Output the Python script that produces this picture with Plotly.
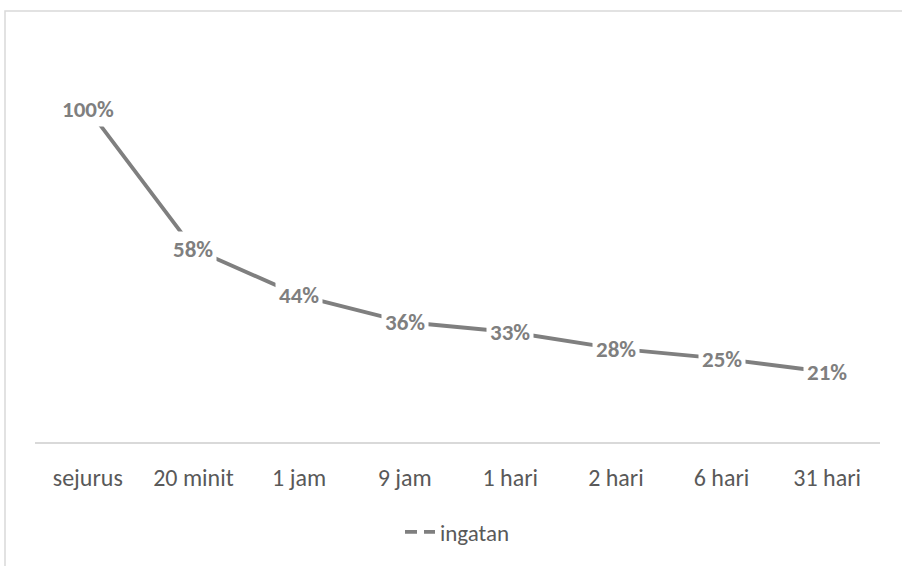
import plotly.graph_objects as go

categories = ["sejurus", "20 minit", "1 jam", "9 jam", "1 hari", "2 hari", "6 hari", "31 hari"]
ingatan = [1.00, 0.58, 0.44, 0.36, 0.33, 0.28, 0.25, 0.21]
series_name = "ingatan"

GREY = "#7f7f7f"
FONT = "Carlito, Calibri, Lato, sans-serif"

fig = go.Figure()
fig.add_trace(go.Scatter(
    x=categories, y=ingatan, mode="lines",
    line=dict(color=GREY, width=3.8),
    showlegend=False, hoverinfo="skip",
))
# legend entry (Excel-style symbol with a gap)
fig.add_trace(go.Scatter(
    x=[None], y=[None], mode="lines", name=series_name,
    line=dict(color=GREY, width=3.8, dash="12px,7px"),
    showlegend=True,
))

for c, v in zip(categories, ingatan):
    fig.add_annotation(
        x=c, y=v, xref="x", yref="y", text=f"<b>{round(v*100)}%</b>",
        showarrow=False, bgcolor="white", borderpad=3,
        font=dict(family=FONT, size=23, color=GREY),
    )

# outer chart border (light grey frame)
fig.add_shape(type="rect", xref="paper", yref="paper",
              x0=-0.0355, x1=1.04, y0=-0.4, y1=1.0775,
              line=dict(color="#d9d9d9", width=1.5), fillcolor="rgba(0,0,0,0)",
              layer="below")

fig.update_layout(
    width=902, height=566,
    margin=dict(l=35, r=22, t=42, b=124),
    paper_bgcolor="white", plot_bgcolor="white",
    font=dict(family=FONT, color="#595959"),
    xaxis=dict(
        type="category", range=[-0.5, 7.5],
        showline=True, linecolor="#d9d9d9", linewidth=1.5,
        showgrid=False, zeroline=False, ticks="",
        tickfont=dict(family=FONT, size=24, color="#595959"),
        ticklabelstandoff=13,
    ),
    yaxis=dict(range=[0, 1.2], visible=False, showgrid=False, zeroline=False),
    legend=dict(
        orientation="h", x=0.5, xanchor="center", y=-0.225, yanchor="middle",
        font=dict(family=FONT, size=23, color="#595959"),
        bgcolor="rgba(0,0,0,0)",
    ),
    showlegend=True,
)

fig.write_html(
    "out.html",
    config={"displayModeBar": False},
    post_script="document.body.style.margin='0';document.body.style.overflow='hidden';",
)
